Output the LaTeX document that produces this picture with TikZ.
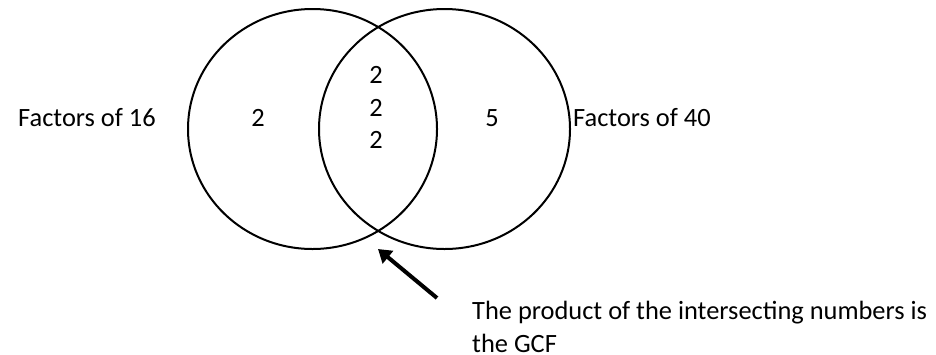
\documentclass[tikz,border=0pt]{standalone}
\usepackage{fontspec}
\setmainfont{Carlito}
\usetikzlibrary{arrows.meta}
\begin{document}
\begin{tikzpicture}[x=1pt,y=-1pt,
  lbl/.style={inner sep=0pt,anchor=base west,font=\fontsize{26.4}{33}\selectfont},
  num/.style={inner sep=0pt,anchor=base,font=\fontsize{26.4}{33}\selectfont},
  ring/.style={draw=black,line width=2pt},
  pointer/.style={line width=4pt,-{Triangle[length=13pt,width=16pt]}}]
\useasboundingbox (0,0) rectangle (936,354);
\draw[ring] (312.5,129) ellipse [x radius=124.5, y radius=120];
\draw[ring] (444.5,129) ellipse [x radius=125.5, y radius=120];
\node[lbl] (f16) at (18,126) {Factors of 16};
\node[lbl] (f40) at (573,126) {Factors of 40};
\node[num] (a) at (258,126) {2};
\node[num] (b1) at (376,83) {2};
\node[num] (b2) at (376,116) {2};
\node[num] (b3) at (376,148) {2};
\node[num] (c) at (492,126) {5};
\node[lbl,align=left] (note) at (472,352) {The product of the intersecting numbers is\\the GCF};
\coordinate (tail) at (437,298);
\coordinate (tip) at (378,249);
\draw[pointer] (tail) -- (tip);
\end{tikzpicture}
\end{document}
